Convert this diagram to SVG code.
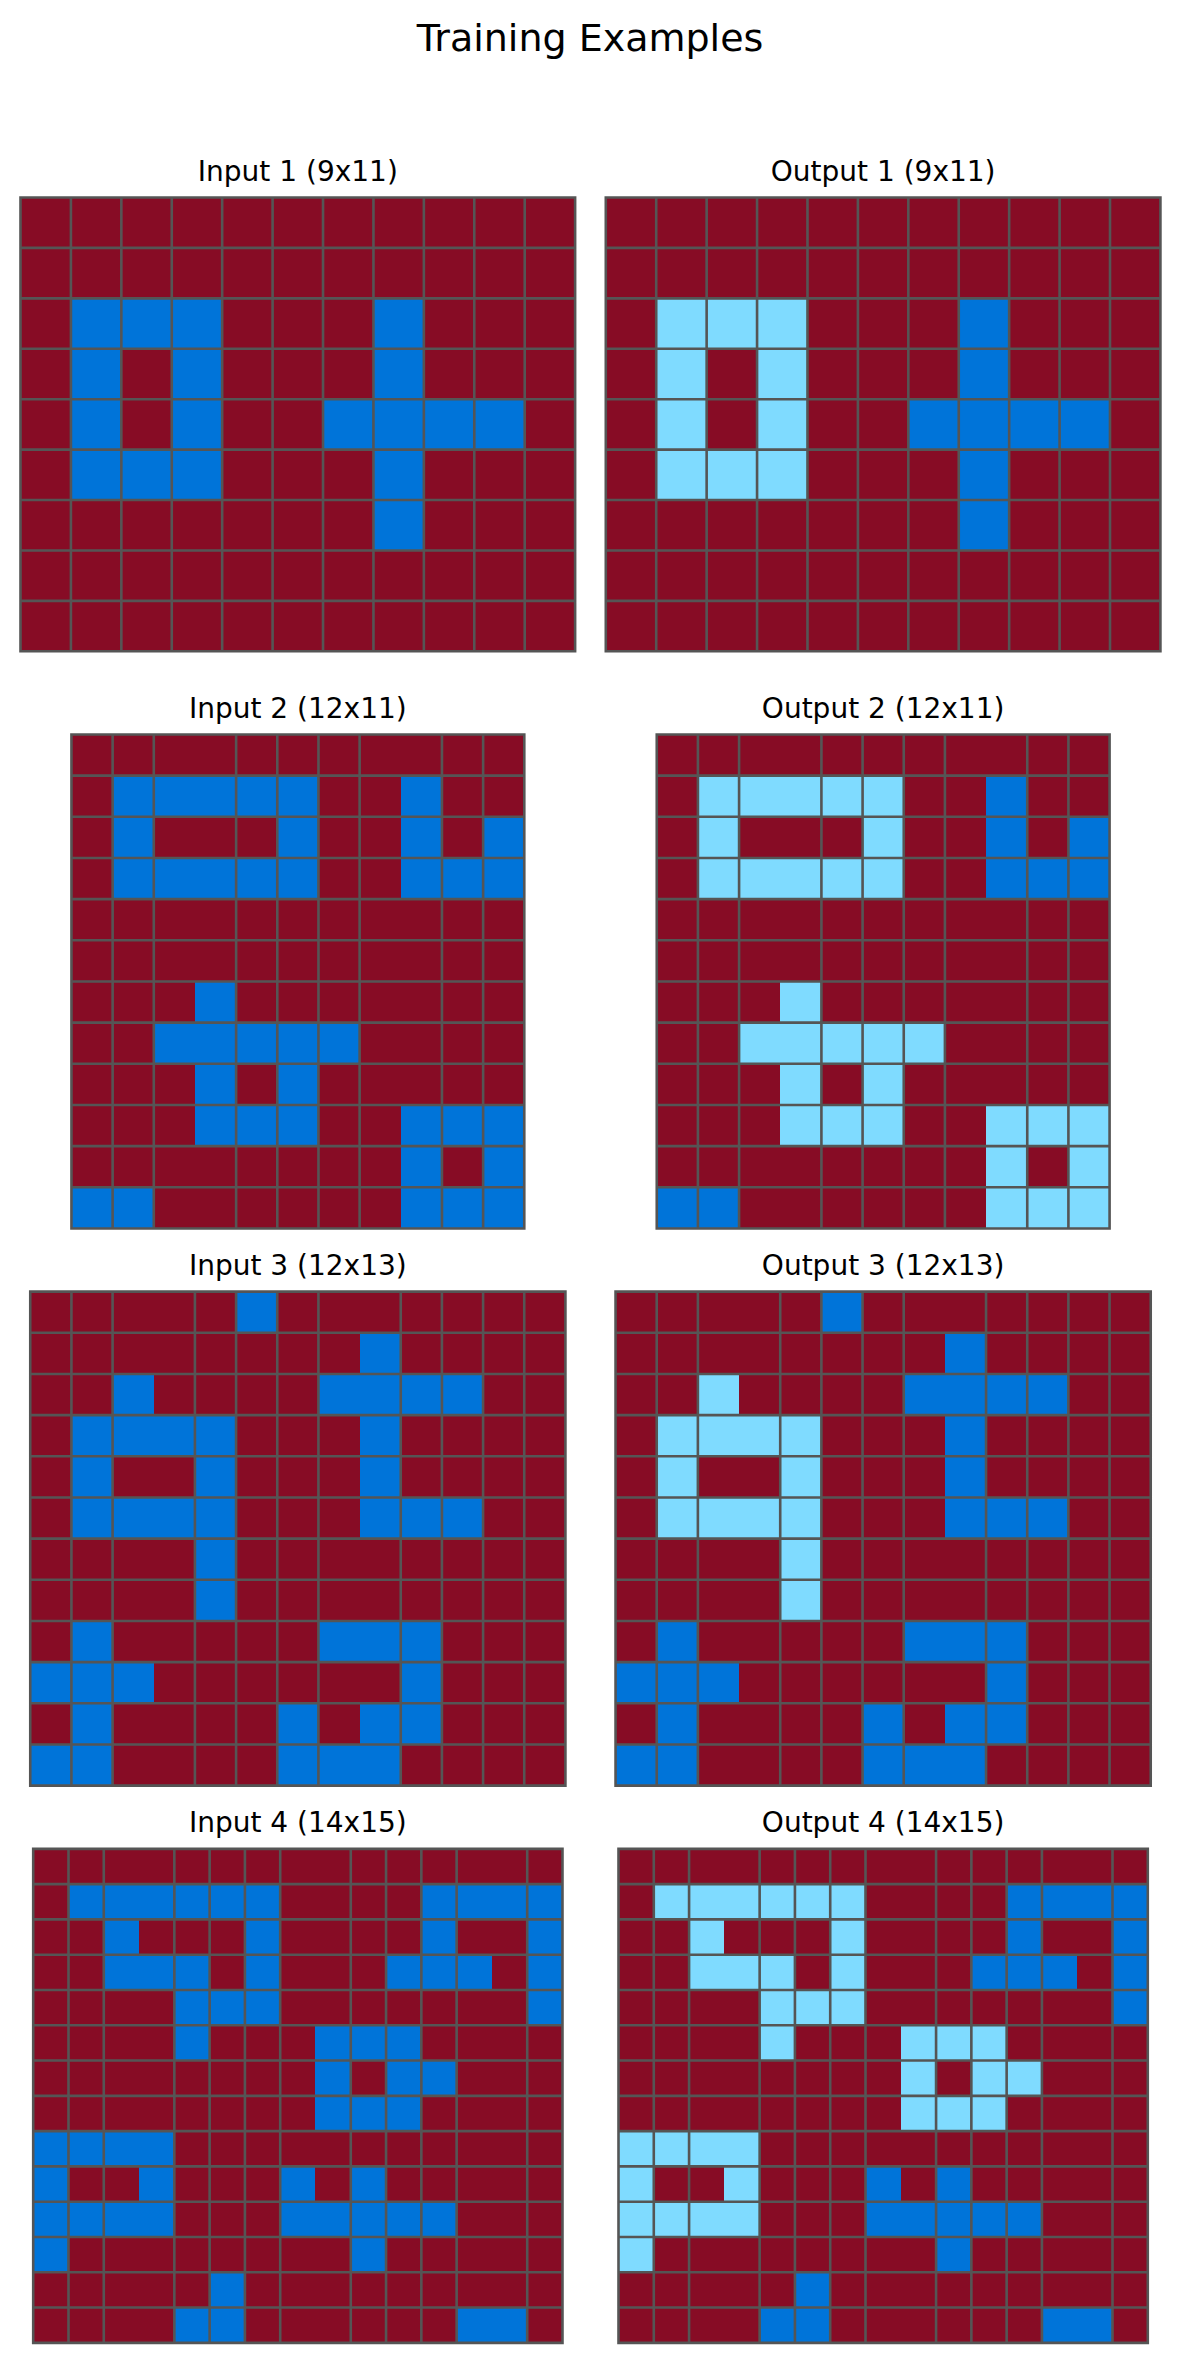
<svg xmlns="http://www.w3.org/2000/svg" width="1180" height="2362" viewBox="0 0 1180 2362">
<style>
.bg{fill:#870C25}
.b{fill:#0074D9}
.l{fill:#7FDBFF}
rect{shape-rendering:crispEdges}
.gl{fill:none;stroke:#555555;stroke-width:2.6;vector-effect:non-scaling-stroke}
text{font-family:"DejaVu Sans","Liberation Sans",sans-serif;fill:#000;text-anchor:middle}
.ttl{font-size:38px}
.sub{font-size:28px}
</style>
<rect width="1180" height="2362" fill="#ffffff"/>
<text class="ttl" x="590" y="50.7">Training Examples</text>

<g id="input1">
<text class="sub" x="297.85" y="180.5">Input 1 (9x11)</text>
<g transform="translate(20.5 197.5) scale(50.42)">
<rect class="bg" width="11" height="9"/>
<rect class="b" x="1" y="2" width="3" height="1"/><rect class="b" x="7" y="2" width="1" height="1"/>
<rect class="b" x="1" y="3" width="1" height="1"/><rect class="b" x="3" y="3" width="1" height="1"/><rect class="b" x="7" y="3" width="1" height="1"/>
<rect class="b" x="1" y="4" width="1" height="1"/><rect class="b" x="3" y="4" width="1" height="1"/><rect class="b" x="6" y="4" width="4" height="1"/>
<rect class="b" x="1" y="5" width="3" height="1"/><rect class="b" x="7" y="5" width="1" height="1"/>
<rect class="b" x="7" y="6" width="1" height="1"/>
<path class="gl" d="M0 0H11V9H0Z M1 0V9M2 0V9M3 0V9M4 0V9M5 0V9M6 0V9M7 0V9M8 0V9M9 0V9M10 0V9 M0 1H11M0 2H11M0 3H11M0 4H11M0 5H11M0 6H11M0 7H11M0 8H11"/>
</g>
</g>

<g id="output1">
<text class="sub" x="883.15" y="180.5">Output 1 (9x11)</text>
<g transform="translate(605.8 197.5) scale(50.42)">
<rect class="bg" width="11" height="9"/>
<rect class="l" x="1" y="2" width="3" height="1"/><rect class="b" x="7" y="2" width="1" height="1"/>
<rect class="l" x="1" y="3" width="1" height="1"/><rect class="l" x="3" y="3" width="1" height="1"/><rect class="b" x="7" y="3" width="1" height="1"/>
<rect class="l" x="1" y="4" width="1" height="1"/><rect class="l" x="3" y="4" width="1" height="1"/><rect class="b" x="6" y="4" width="4" height="1"/>
<rect class="l" x="1" y="5" width="3" height="1"/><rect class="b" x="7" y="5" width="1" height="1"/>
<rect class="b" x="7" y="6" width="1" height="1"/>
<path class="gl" d="M0 0H11V9H0Z M1 0V9M2 0V9M3 0V9M4 0V9M5 0V9M6 0V9M7 0V9M8 0V9M9 0V9M10 0V9 M0 1H11M0 2H11M0 3H11M0 4H11M0 5H11M0 6H11M0 7H11M0 8H11"/>
</g>
</g>

<g id="input2">
<text class="sub" x="297.85" y="717.5">Input 2 (12x11)</text>
<g transform="translate(71.45 734.45) scale(41.1667)">
<rect class="bg" width="11" height="12"/>
<rect class="b" x="1" y="1" width="5" height="1"/><rect class="b" x="8" y="1" width="1" height="1"/>
<rect class="b" x="1" y="2" width="1" height="1"/><rect class="b" x="5" y="2" width="1" height="1"/><rect class="b" x="8" y="2" width="1" height="1"/><rect class="b" x="10" y="2" width="1" height="1"/>
<rect class="b" x="1" y="3" width="5" height="1"/><rect class="b" x="8" y="3" width="3" height="1"/>
<rect class="b" x="3" y="6" width="1" height="1"/>
<rect class="b" x="2" y="7" width="5" height="1"/>
<rect class="b" x="3" y="8" width="1" height="1"/><rect class="b" x="5" y="8" width="1" height="1"/>
<rect class="b" x="3" y="9" width="3" height="1"/><rect class="b" x="8" y="9" width="3" height="1"/>
<rect class="b" x="8" y="10" width="1" height="1"/><rect class="b" x="10" y="10" width="1" height="1"/>
<rect class="b" x="0" y="11" width="2" height="1"/><rect class="b" x="8" y="11" width="3" height="1"/>
<path class="gl" d="M0 0H11V12H0Z M1 0V12M2 0V12M4 0V12M5 0V12M6 0V12M7 0V12M9 0V12M10 0V12 M0 1H11M0 2H11M0 3H11M0 4H11M0 5H11M0 6H11M0 7H11M0 8H11M0 9H11M0 10H11M0 11H11"/>
</g>
</g>

<g id="output2">
<text class="sub" x="883.15" y="717.5">Output 2 (12x11)</text>
<g transform="translate(656.75 734.45) scale(41.1667)">
<rect class="bg" width="11" height="12"/>
<rect class="l" x="1" y="1" width="5" height="1"/><rect class="b" x="8" y="1" width="1" height="1"/>
<rect class="l" x="1" y="2" width="1" height="1"/><rect class="l" x="5" y="2" width="1" height="1"/><rect class="b" x="8" y="2" width="1" height="1"/><rect class="b" x="10" y="2" width="1" height="1"/>
<rect class="l" x="1" y="3" width="5" height="1"/><rect class="b" x="8" y="3" width="3" height="1"/>
<rect class="l" x="3" y="6" width="1" height="1"/>
<rect class="l" x="2" y="7" width="5" height="1"/>
<rect class="l" x="3" y="8" width="1" height="1"/><rect class="l" x="5" y="8" width="1" height="1"/>
<rect class="l" x="3" y="9" width="3" height="1"/><rect class="l" x="8" y="9" width="3" height="1"/>
<rect class="l" x="8" y="10" width="1" height="1"/><rect class="l" x="10" y="10" width="1" height="1"/>
<rect class="b" x="0" y="11" width="2" height="1"/><rect class="l" x="8" y="11" width="3" height="1"/>
<path class="gl" d="M0 0H11V12H0Z M1 0V12M2 0V12M4 0V12M5 0V12M6 0V12M7 0V12M9 0V12M10 0V12 M0 1H11M0 2H11M0 3H11M0 4H11M0 5H11M0 6H11M0 7H11M0 8H11M0 9H11M0 10H11M0 11H11"/>
</g>
</g>

<g id="input3">
<text class="sub" x="297.85" y="1274.6">Input 3 (12x13)</text>
<g transform="translate(30.25 1291.65) scale(41.1667)">
<rect class="bg" width="13" height="12"/>
<rect class="b" x="5" y="0" width="1" height="1"/>
<rect class="b" x="8" y="1" width="1" height="1"/>
<rect class="b" x="2" y="2" width="1" height="1"/><rect class="b" x="7" y="2" width="4" height="1"/>
<rect class="b" x="1" y="3" width="4" height="1"/><rect class="b" x="8" y="3" width="1" height="1"/>
<rect class="b" x="1" y="4" width="1" height="1"/><rect class="b" x="4" y="4" width="1" height="1"/><rect class="b" x="8" y="4" width="1" height="1"/>
<rect class="b" x="1" y="5" width="4" height="1"/><rect class="b" x="8" y="5" width="3" height="1"/>
<rect class="b" x="4" y="6" width="1" height="1"/>
<rect class="b" x="4" y="7" width="1" height="1"/>
<rect class="b" x="1" y="8" width="1" height="1"/><rect class="b" x="7" y="8" width="3" height="1"/>
<rect class="b" x="0" y="9" width="3" height="1"/><rect class="b" x="9" y="9" width="1" height="1"/>
<rect class="b" x="1" y="10" width="1" height="1"/><rect class="b" x="6" y="10" width="1" height="1"/><rect class="b" x="8" y="10" width="2" height="1"/>
<rect class="b" x="0" y="11" width="2" height="1"/><rect class="b" x="6" y="11" width="3" height="1"/>
<path class="gl" d="M0 0H13V12H0Z M1 0V12M2 0V12M4 0V12M5 0V12M6 0V12M7 0V12M9 0V12M10 0V12M11 0V12M12 0V12 M0 1H13M0 2H13M0 3H13M0 4H13M0 5H13M0 6H13M0 7H13M0 8H13M0 9H13M0 10H13M0 11H13"/>
</g>
</g>

<g id="output3">
<text class="sub" x="883.15" y="1274.6">Output 3 (12x13)</text>
<g transform="translate(615.55 1291.65) scale(41.1667)">
<rect class="bg" width="13" height="12"/>
<rect class="b" x="5" y="0" width="1" height="1"/>
<rect class="b" x="8" y="1" width="1" height="1"/>
<rect class="l" x="2" y="2" width="1" height="1"/><rect class="b" x="7" y="2" width="4" height="1"/>
<rect class="l" x="1" y="3" width="4" height="1"/><rect class="b" x="8" y="3" width="1" height="1"/>
<rect class="l" x="1" y="4" width="1" height="1"/><rect class="l" x="4" y="4" width="1" height="1"/><rect class="b" x="8" y="4" width="1" height="1"/>
<rect class="l" x="1" y="5" width="4" height="1"/><rect class="b" x="8" y="5" width="3" height="1"/>
<rect class="l" x="4" y="6" width="1" height="1"/>
<rect class="l" x="4" y="7" width="1" height="1"/>
<rect class="b" x="1" y="8" width="1" height="1"/><rect class="b" x="7" y="8" width="3" height="1"/>
<rect class="b" x="0" y="9" width="3" height="1"/><rect class="b" x="9" y="9" width="1" height="1"/>
<rect class="b" x="1" y="10" width="1" height="1"/><rect class="b" x="6" y="10" width="1" height="1"/><rect class="b" x="8" y="10" width="2" height="1"/>
<rect class="b" x="0" y="11" width="2" height="1"/><rect class="b" x="6" y="11" width="3" height="1"/>
<path class="gl" d="M0 0H13V12H0Z M1 0V12M2 0V12M4 0V12M5 0V12M6 0V12M7 0V12M9 0V12M10 0V12M11 0V12M12 0V12 M0 1H13M0 2H13M0 3H13M0 4H13M0 5H13M0 6H13M0 7H13M0 8H13M0 9H13M0 10H13M0 11H13"/>
</g>
</g>

<g id="input4">
<text class="sub" x="297.85" y="1831.8">Input 4 (14x15)</text>
<g transform="translate(33.2 1848.85) scale(35.2857)">
<rect class="bg" width="15" height="14"/>
<rect class="b" x="1" y="1" width="6" height="1"/><rect class="b" x="11" y="1" width="4" height="1"/>
<rect class="b" x="2" y="2" width="1" height="1"/><rect class="b" x="6" y="2" width="1" height="1"/><rect class="b" x="11" y="2" width="1" height="1"/><rect class="b" x="14" y="2" width="1" height="1"/>
<rect class="b" x="2" y="3" width="3" height="1"/><rect class="b" x="6" y="3" width="1" height="1"/><rect class="b" x="10" y="3" width="3" height="1"/><rect class="b" x="14" y="3" width="1" height="1"/>
<rect class="b" x="4" y="4" width="3" height="1"/><rect class="b" x="14" y="4" width="1" height="1"/>
<rect class="b" x="4" y="5" width="1" height="1"/><rect class="b" x="8" y="5" width="3" height="1"/>
<rect class="b" x="8" y="6" width="1" height="1"/><rect class="b" x="10" y="6" width="2" height="1"/>
<rect class="b" x="8" y="7" width="3" height="1"/>
<rect class="b" x="0" y="8" width="4" height="1"/>
<rect class="b" x="0" y="9" width="1" height="1"/><rect class="b" x="3" y="9" width="1" height="1"/><rect class="b" x="7" y="9" width="1" height="1"/><rect class="b" x="9" y="9" width="1" height="1"/>
<rect class="b" x="0" y="10" width="4" height="1"/><rect class="b" x="7" y="10" width="5" height="1"/>
<rect class="b" x="0" y="11" width="1" height="1"/><rect class="b" x="9" y="11" width="1" height="1"/>
<rect class="b" x="5" y="12" width="1" height="1"/>
<rect class="b" x="4" y="13" width="2" height="1"/><rect class="b" x="12" y="13" width="2" height="1"/>
<path class="gl" d="M0 0H15V14H0Z M1 0V14M2 0V14M4 0V14M5 0V14M6 0V14M7 0V14M9 0V14M10 0V14M11 0V14M12 0V14M14 0V14 M0 1H15M0 2H15M0 3H15M0 4H15M0 5H15M0 6H15M0 7H15M0 8H15M0 9H15M0 10H15M0 11H15M0 12H15M0 13H15"/>
</g>
</g>

<g id="output4">
<text class="sub" x="883.15" y="1831.8">Output 4 (14x15)</text>
<g transform="translate(618.5 1848.85) scale(35.2857)">
<rect class="bg" width="15" height="14"/>
<rect class="l" x="1" y="1" width="6" height="1"/><rect class="b" x="11" y="1" width="4" height="1"/>
<rect class="l" x="2" y="2" width="1" height="1"/><rect class="l" x="6" y="2" width="1" height="1"/><rect class="b" x="11" y="2" width="1" height="1"/><rect class="b" x="14" y="2" width="1" height="1"/>
<rect class="l" x="2" y="3" width="3" height="1"/><rect class="l" x="6" y="3" width="1" height="1"/><rect class="b" x="10" y="3" width="3" height="1"/><rect class="b" x="14" y="3" width="1" height="1"/>
<rect class="l" x="4" y="4" width="3" height="1"/><rect class="b" x="14" y="4" width="1" height="1"/>
<rect class="l" x="4" y="5" width="1" height="1"/><rect class="l" x="8" y="5" width="3" height="1"/>
<rect class="l" x="8" y="6" width="1" height="1"/><rect class="l" x="10" y="6" width="2" height="1"/>
<rect class="l" x="8" y="7" width="3" height="1"/>
<rect class="l" x="0" y="8" width="4" height="1"/>
<rect class="l" x="0" y="9" width="1" height="1"/><rect class="l" x="3" y="9" width="1" height="1"/><rect class="b" x="7" y="9" width="1" height="1"/><rect class="b" x="9" y="9" width="1" height="1"/>
<rect class="l" x="0" y="10" width="4" height="1"/><rect class="b" x="7" y="10" width="5" height="1"/>
<rect class="l" x="0" y="11" width="1" height="1"/><rect class="b" x="9" y="11" width="1" height="1"/>
<rect class="b" x="5" y="12" width="1" height="1"/>
<rect class="b" x="4" y="13" width="2" height="1"/><rect class="b" x="12" y="13" width="2" height="1"/>
<path class="gl" d="M0 0H15V14H0Z M1 0V14M2 0V14M4 0V14M5 0V14M6 0V14M7 0V14M9 0V14M10 0V14M11 0V14M12 0V14M14 0V14 M0 1H15M0 2H15M0 3H15M0 4H15M0 5H15M0 6H15M0 7H15M0 8H15M0 9H15M0 10H15M0 11H15M0 12H15M0 13H15"/>
</g>
</g>
</svg>
